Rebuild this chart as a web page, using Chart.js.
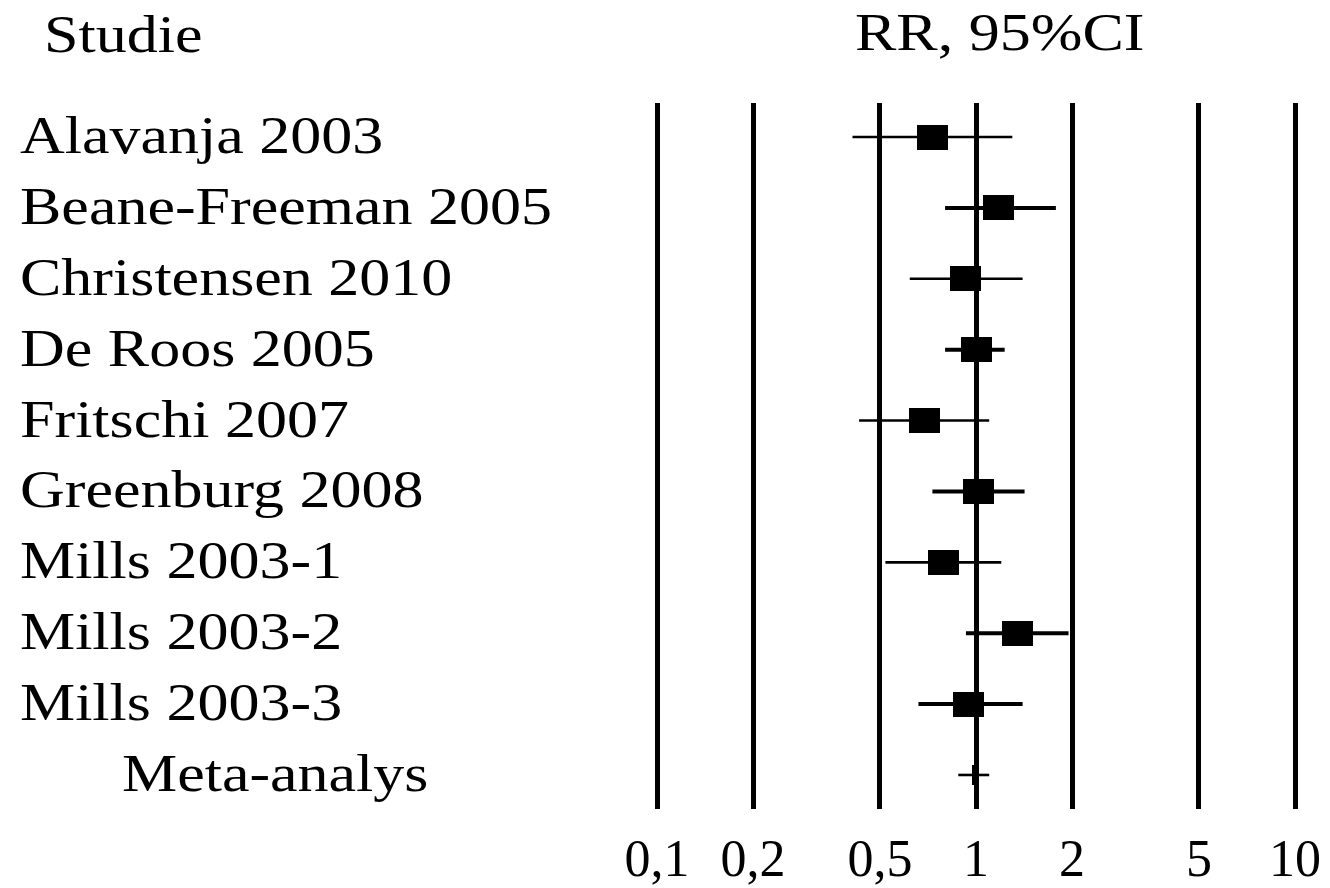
<!DOCTYPE html>
<html>
<head>
<meta charset="utf-8">
<title>RR, 95%CI</title>
<script src="https://cdn.jsdelivr.net/npm/chart.js@4.4.1/dist/chart.umd.min.js"></script>
<style>
  html, body { margin: 0; padding: 0; background: #fff; }
  canvas { display: block; }
</style>
</head>
<body>
<canvas id="forest" width="1330" height="888"></canvas>
<script>
// Studies and their relative risk with 95% confidence interval
const studies = [
  'Alavanja 2003',
  'Beane-Freeman 2005',
  'Christensen 2010',
  'De Roos 2005',
  'Fritschi 2007',
  'Greenburg 2008',
  'Mills 2003-1',
  'Mills 2003-2',
  'Mills 2003-3',
  'Meta-analys'
];
const rr      = [0.73, 1.18, 0.93, 1.00, 0.69, 1.02, 0.79, 1.35, 0.95, 0.99];
const ciLow   = [0.41, 0.80, 0.62, 0.80, 0.43, 0.73, 0.52, 0.93, 0.66, 0.88];
const ciHigh  = [1.30, 1.78, 1.40, 1.23, 1.10, 1.42, 1.20, 1.95, 1.40, 1.10];

// x axis reference lines
const tickValues = [0.1, 0.2, 0.5, 1, 2, 5, 10];
const tickLabels = ['0,1', '0,2', '0,5', '1', '2', '5', '10'];

// drawing styles
const ciLineWidth = [2.6, 4, 2.6, 4, 2.6, 4, 2.6, 4, 4, 2.6];
const FONT = '"Liberation Serif", "Times New Roman", serif';
const STRETCH = 1.17;

function makeBox(w, h) {
  const c = document.createElement('canvas');
  c.width = w;
  c.height = h;
  const g = c.getContext('2d');
  g.fillStyle = '#000';
  g.fillRect(0, 0, w, h);
  return c;
}
const studyBox = makeBox(31, 25);
const metaBox = makeBox(6, 20);

// one horizontal segment per study for the interval
const ciSets = studies.map((s, i) => ({
  type: 'line',
  data: [{ x: ciLow[i], y: i }, { x: ciHigh[i], y: i }],
  borderColor: '#000',
  borderWidth: ciLineWidth[i],
  borderCapStyle: 'butt',
  pointRadius: 0,
  fill: false
}));

const pointSet = {
  type: 'scatter',
  data: rr.map((v, i) => ({ x: v, y: i })),
  pointStyle: (ctx) => ctx.dataIndex === studies.length - 1 ? metaBox : studyBox,
  backgroundColor: '#000',
  borderWidth: 0
};

// study names and column headers, slightly widened like the original typeface
const labelPlugin = {
  id: 'forestLabels',
  afterDraw(chart) {
    const ctx = chart.ctx;
    const y = chart.scales.y;
    ctx.save();
    ctx.fillStyle = '#000';
    ctx.textBaseline = 'alphabetic';
    ctx.textAlign = 'left';
    ctx.font = '53px ' + FONT;
    const put = (txt, x, yy) => {
      ctx.save();
      ctx.translate(x, yy);
      ctx.scale(STRETCH, 1);
      ctx.fillText(txt, 0, 0);
      ctx.restore();
    };
    studies.forEach((s, i) => {
      const x = i === studies.length - 1 ? 122 : 20;
      put(s, x, y.getPixelForValue(i) + 16);
    });
    put('Studie', 44, 52);
    put('RR, 95%CI', 855, 50);
    ctx.restore();
  }
};

new Chart(document.getElementById('forest'), {
  data: { datasets: [...ciSets, pointSet] },
  options: {
    responsive: false,
    animation: false,
    events: [],
    layout: { padding: { left: 657, right: 35, top: 103, bottom: 0 } },
    plugins: { legend: { display: false }, tooltip: { enabled: false } },
    scales: {
      x: {
        type: 'logarithmic',
        min: 0.1,
        max: 10,
        afterBuildTicks: (scale) => {
          scale.ticks = tickValues.map(v => ({ value: v }));
        },
        afterFit: (scale) => {
          scale.height = 79;
          scale.paddingLeft = 0;
          scale.paddingRight = 0;
        },
        grid: { color: '#000', lineWidth: 5, drawTicks: false },
        border: { display: false },
        ticks: {
          autoSkip: false,
          maxRotation: 0,
          padding: 22,
          color: '#000',
          font: { family: FONT, size: 52 },
          callback: (v, i) => tickLabels[i]
        }
      },
      y: {
        type: 'linear',
        display: false,
        reverse: true,
        min: -0.48,
        max: studies.length - 0.52
      }
    }
  },
  plugins: [labelPlugin]
});
</script>
</body>
</html>
